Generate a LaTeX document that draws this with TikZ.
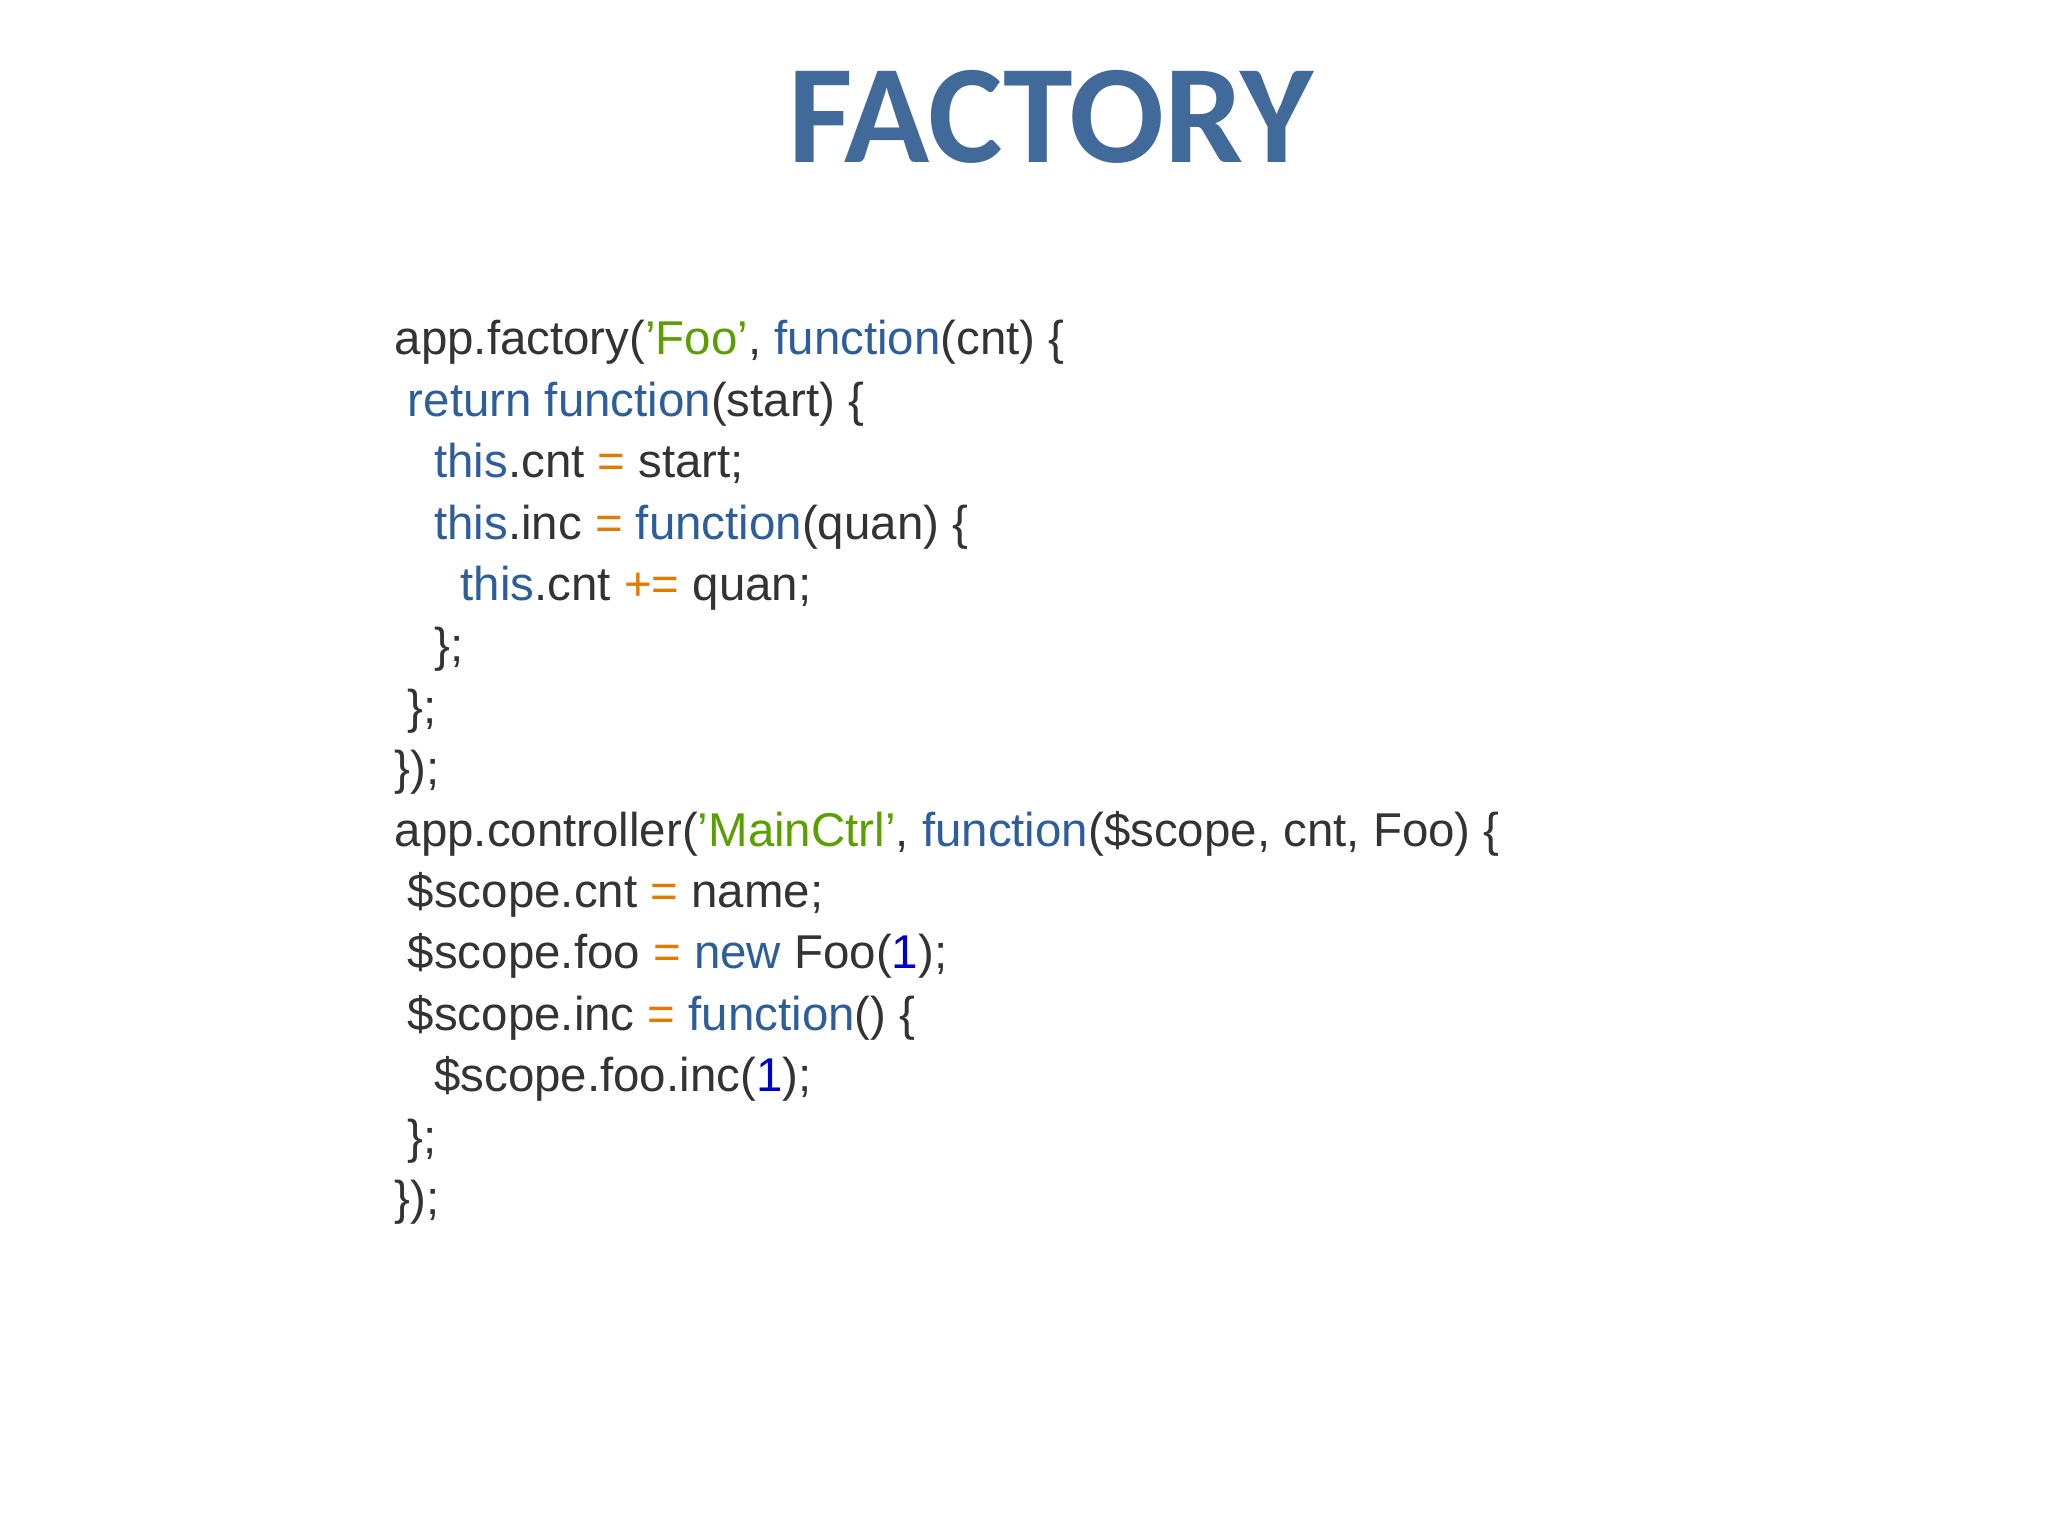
\documentclass[tikz,border=0pt]{standalone}
\usepackage{fontspec}
\setmainfont{Liberation Sans}
\newfontfamily\titlefont{Carlito}
\definecolor{tc}{HTML}{41699A}
\definecolor{gx}{HTML}{333333}
\definecolor{kw}{HTML}{2E5E9A}
\definecolor{st}{HTML}{5A9E00}
\definecolor{op}{HTML}{E07B00}
\definecolor{nm}{HTML}{0000CC}
\newcommand{\K}[1]{\textcolor{kw}{#1}}
\newcommand{\Sx}[1]{\textcolor{st}{#1}}
\newcommand{\Ox}[1]{\textcolor{op}{#1}}
\newcommand{\Nx}[1]{\textcolor{nm}{#1}}
\newcommand{\ind}[1]{\hspace*{#1\fontdimen2\font}}
\begin{document}
\begin{tikzpicture}[x=1cm,y=1cm,
  codeline/.style={anchor=base west,inner sep=0pt,text=gx,font=\fontsize{13.5}{16}\selectfont}]
\useasboundingbox (0,0) rectangle (20.48,15.36);
\node[text=tc,font=\titlefont\bfseries\fontsize{40}{44}\selectfont,anchor=base] (title) at (10.51,13.73) {FACTORY};
\def\dy{0.614}
\node[codeline] (l1) at (3.94,11.81) {app.factory(\Sx{'Foo'}, \K{function}(cnt) \{};
\node[codeline] (l2) at (3.94,11.81-1*\dy) {\ind{1}\K{return function}(start) \{};
\node[codeline] (l3) at (3.94,11.81-2*\dy) {\ind{3}\K{this}.cnt \Ox{=} start;};
\node[codeline] (l4) at (3.94,11.81-3*\dy) {\ind{3}\K{this}.inc \Ox{=} \K{function}(quan) \{};
\node[codeline] (l5) at (3.94,11.81-4*\dy) {\ind{5}\K{this}.cnt \Ox{+=} quan;};
\node[codeline] (l6) at (3.94,11.81-5*\dy) {\ind{3}\};};
\node[codeline] (l7) at (3.94,11.81-6*\dy) {\ind{1}\};};
\node[codeline] (l8) at (3.94,11.81-7*\dy) {\});};
\node[codeline] (l9) at (3.94,11.81-8*\dy) {app.controller(\Sx{'MainCtrl'}, \K{function}(\$scope, cnt, Foo) \{};
\node[codeline] (l10) at (3.94,11.81-9*\dy) {\ind{1}\$scope.cnt \Ox{=} name;};
\node[codeline] (l11) at (3.94,11.81-10*\dy) {\ind{1}\$scope.foo \Ox{=} \K{new} Foo(\Nx{1});};
\node[codeline] (l12) at (3.94,11.81-11*\dy) {\ind{1}\$scope.inc \Ox{=} \K{function}() \{};
\node[codeline] (l13) at (3.94,11.81-12*\dy) {\ind{3}\$scope.foo.inc(\Nx{1});};
\node[codeline] (l14) at (3.94,11.81-13*\dy) {\ind{1}\};};
\node[codeline] (l15) at (3.94,11.81-14*\dy) {\});};
\end{tikzpicture}
\end{document}
